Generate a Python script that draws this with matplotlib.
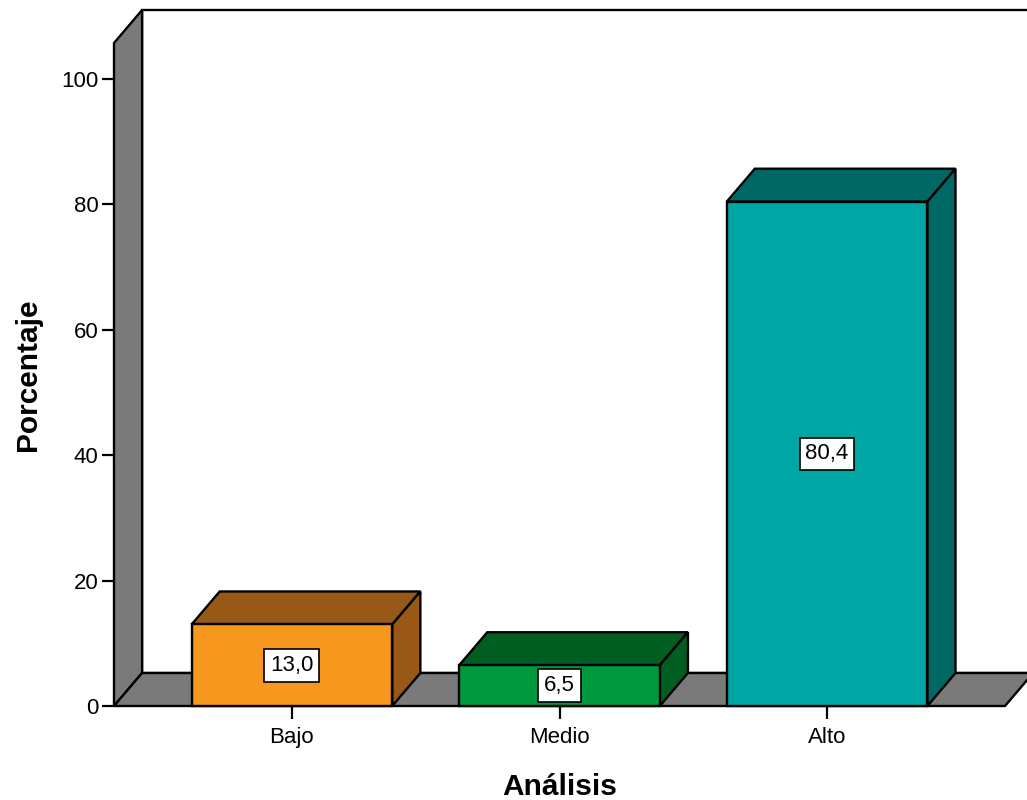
import matplotlib
matplotlib.use("Agg")
import matplotlib.pyplot as plt
from matplotlib.patches import Polygon

plt.rcParams['font.family'] = ['Liberation Sans', 'DejaVu Sans']

# Data
categories = ["Bajo", "Medio", "Alto"]
percentages = [13.0, 6.5, 80.4]
value_labels = ["13,0", "6,5", "80,4"]
y_ticks = [0, 20, 40, 60, 80, 100]

front_colors = ["#F7971D", "#00993D", "#00A6A4"]
shade_colors = ["#985916", "#005E21", "#006864"]
wall_color = "#7A7A7A"

# 3D look: depth offset in data units and axis frame extents
depth_x = 0.105
depth_y = 5.26
x_lo, x_hi = -0.665, 2.665
y_top = 105.7
bar_width = 0.75
edge_lw = 1.7

fig = plt.figure(figsize=(10.27, 8.0), dpi=100)
ax = fig.add_axes([114 / 1027, 94 / 800, 891 / 1027, 663 / 800])
ax.set_xlim(x_lo, x_hi)
ax.set_ylim(0, y_top)
for s in ax.spines.values():
    s.set_visible(False)
ax.patch.set_visible(False)


def poly(points, fc, z):
    p = Polygon(points, closed=True, facecolor=fc, edgecolor="black",
                linewidth=edge_lw, joinstyle="miter", clip_on=False, zorder=z)
    ax.add_patch(p)


# back wall
poly([(x_lo + depth_x, depth_y), (x_hi + depth_x + 1, depth_y),
      (x_hi + depth_x + 1, y_top + depth_y), (x_lo + depth_x, y_top + depth_y)],
     "white", 0.5)
# left side wall
poly([(x_lo, 0), (x_lo + depth_x, depth_y), (x_lo + depth_x, y_top + depth_y),
      (x_lo, y_top)], wall_color, 1)
# floor
poly([(x_lo, 0), (x_hi, 0), (x_hi + depth_x, depth_y), (x_lo + depth_x, depth_y)],
     wall_color, 1)

xs = range(len(categories))
bars = ax.bar(xs, percentages, width=bar_width, color=front_colors,
              edgecolor="black", linewidth=edge_lw, zorder=3, clip_on=False)

for i, (x, v) in enumerate(zip(xs, percentages)):
    l, r = x - bar_width / 2, x + bar_width / 2
    # top face
    poly([(l, v), (r, v), (r + depth_x, v + depth_y), (l + depth_x, v + depth_y)],
         shade_colors[i], 2.5)
    # side face
    poly([(r, 0), (r + depth_x, depth_y), (r + depth_x, v + depth_y), (r, v)],
         shade_colors[i], 2.5)
    ax.text(x, v / 2, value_labels[i], ha="center", va="center", fontsize=16,
            zorder=5,
            bbox=dict(boxstyle="square,pad=0.26", facecolor="white",
                      edgecolor="black", linewidth=1.2))

ax.set_xticks(list(xs))
ax.set_xticklabels(categories, fontsize=16)
ax.set_yticks(y_ticks)
ax.set_yticklabels([str(t) for t in y_ticks], fontsize=16)
ax.tick_params(axis="y", length=9, width=1.6, pad=2)
ax.tick_params(axis="x", length=9, width=1.6, pad=6)

ax.set_xlabel("Análisis", fontsize=21.5, fontweight="bold", labelpad=18)
ax.set_ylabel("Porcentaje", fontsize=21.5, fontweight="bold", labelpad=14)

fig.savefig("out.png", dpi=100)
